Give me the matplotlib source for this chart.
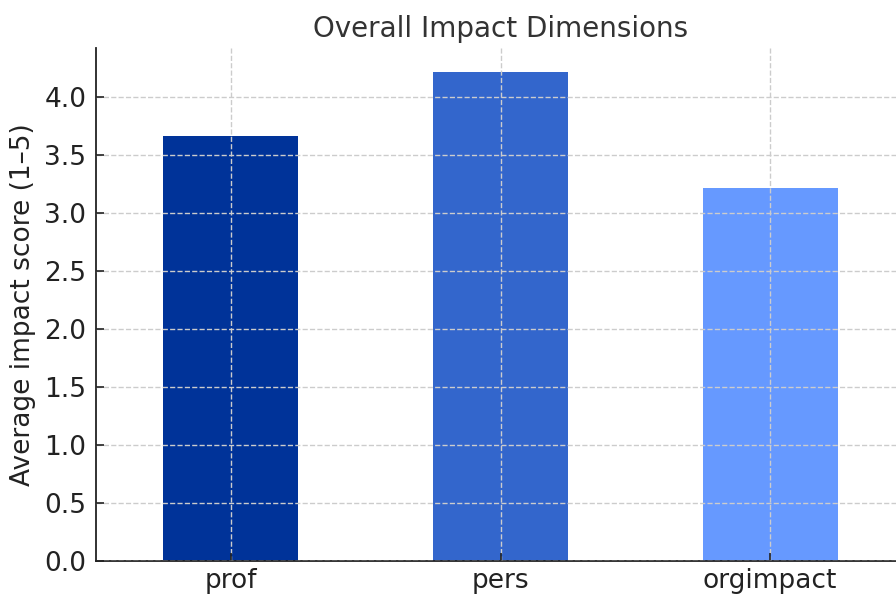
import matplotlib
matplotlib.use("Agg")
import matplotlib.pyplot as plt

categories = ["prof", "pers", "orgimpact"]
values = [3.66, 4.21, 3.21]
colors = ["#003399", "#3366CC", "#6699FF"]
title = "Overall Impact Dimensions"
ylabel = "Average impact score (1–5)"

plt.rcParams['font.family'] = ['DejaVu Sans']
fig = plt.figure(figsize=(8.96, 5.97), dpi=100)
ax = fig.add_axes([96/896, 1-561/597, (905-96)/896, (561-48)/597])
x = list(range(len(categories)))
ax.bar(x, values, width=0.5, color=colors, zorder=2)
ax.set_xticks(x)
ax.set_xticklabels(categories)
ax.set_xlim(-0.5, len(categories) - 0.5)
ax.set_ylim(0, max(values) * 1.05)
ax.set_yticks([0, 0.5, 1.0, 1.5, 2.0, 2.5, 3.0, 3.5, 4.0])
ax.grid(True, linestyle='--', color='#cccccc', linewidth=1, zorder=3)
ax.set_axisbelow(False)
for s in ['top', 'right']:
    ax.spines[s].set_visible(False)
for s in ['left', 'bottom']:
    ax.spines[s].set_color('#222222')
    ax.spines[s].set_linewidth(1.3)
ax.tick_params(axis='both', labelsize=19, colors='#222222', length=6, width=1.2,
               direction='in')
ax.tick_params(axis='x', pad=5)
ax.tick_params(axis='y', pad=7)
ax.set_title(title, fontsize=20, color='#333333', pad=8)
ax.set_ylabel(ylabel, fontsize=19, color='#222222', labelpad=6)
fig.savefig("out.png", dpi=100)
